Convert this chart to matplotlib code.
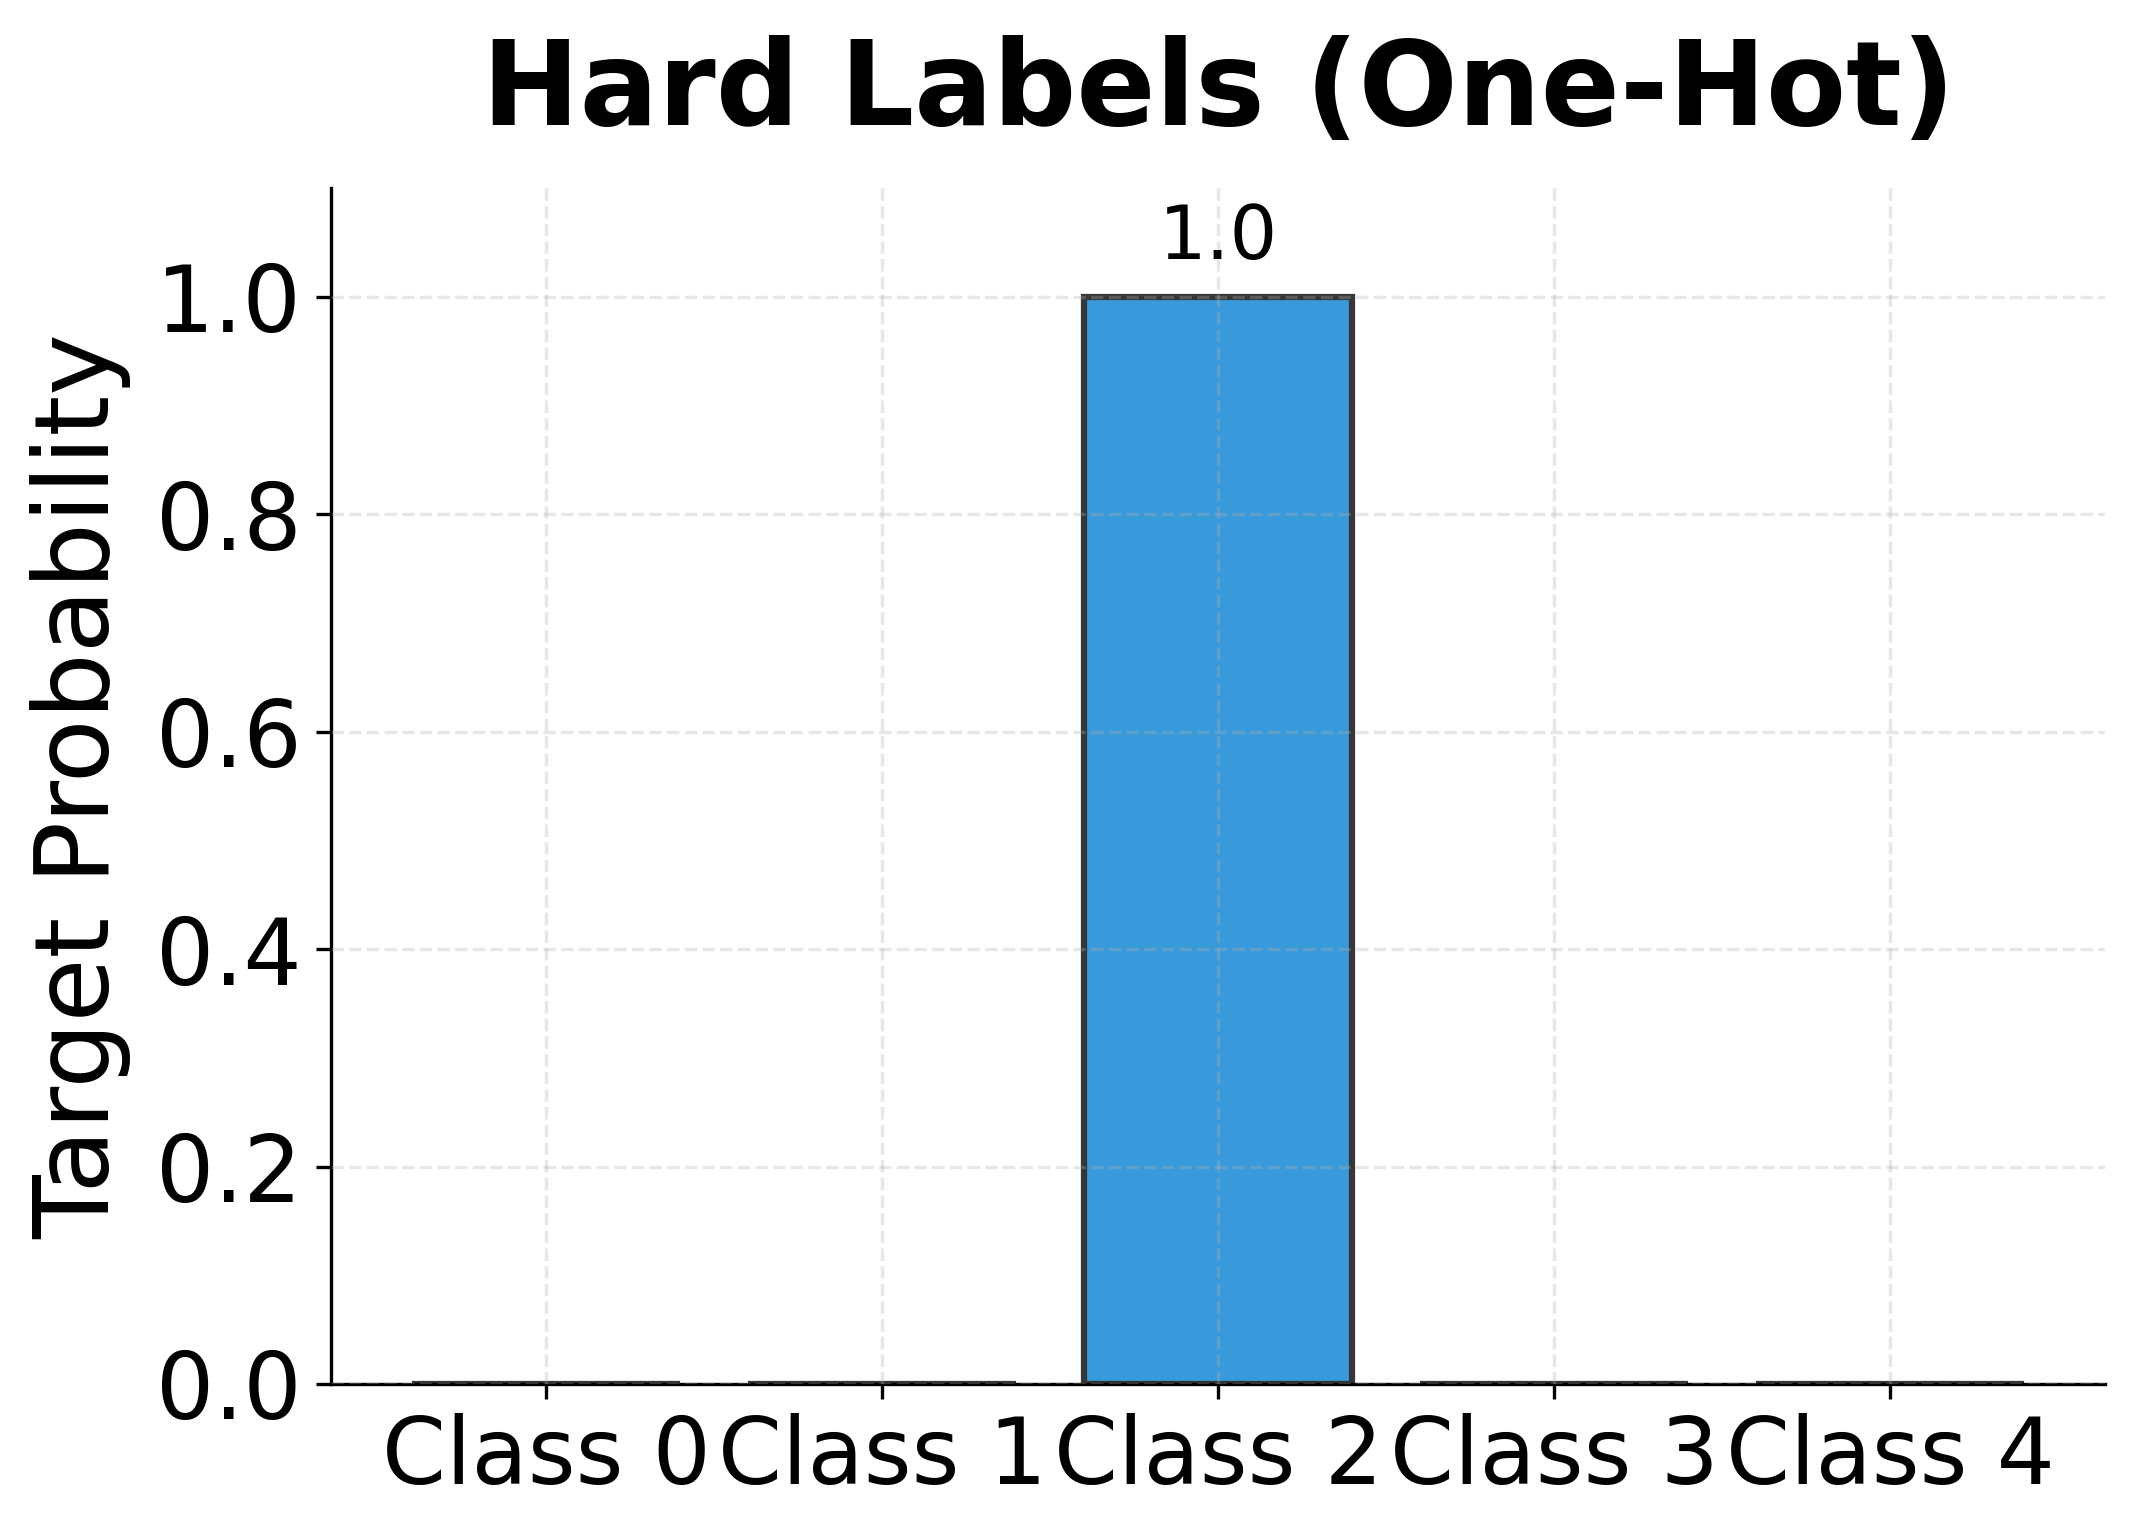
import matplotlib
matplotlib.use("Agg")
import matplotlib.pyplot as plt

plt.rcParams['font.family'] = ['DejaVu Sans']

# Datos de la gráfica
classes = ['Class 0', 'Class 1', 'Class 2', 'Class 3', 'Class 4']
probs = [0.0, 0.0, 1.0, 0.0, 0.0]

fig = plt.figure(figsize=(2134 / 300, 1534 / 300), dpi=300)
ax = fig.add_axes([331 / 2134, 1 - 1384 / 1534, (2105 - 331) / 2134, (1384 - 188) / 1534])

bars = ax.bar(classes, probs, width=0.8, color='#3498db', edgecolor='#333333',
              linewidth=1.5, alpha=0.98)

# Etiqueta sobre la barra no nula
for b, p in zip(bars, probs):
    if p > 0:
        ax.text(b.get_x() + b.get_width() / 2, p + 0.02, f'{p:.1f}',
                ha='center', va='bottom', fontsize=18)

ax.set_ylim(0, 1.1)
ax.set_ylabel('Target Probability', fontsize=25, labelpad=6)
ax.set_title('Hard Labels (One-Hot)', fontsize=28, fontweight='bold', pad=15)
ax.tick_params(axis='both', labelsize=22)
ax.grid(True, linestyle='--', alpha=0.3)
ax.set_axisbelow(False)
ax.spines['top'].set_visible(False)
ax.spines['right'].set_visible(False)

fig.savefig('out.png', dpi=300)
